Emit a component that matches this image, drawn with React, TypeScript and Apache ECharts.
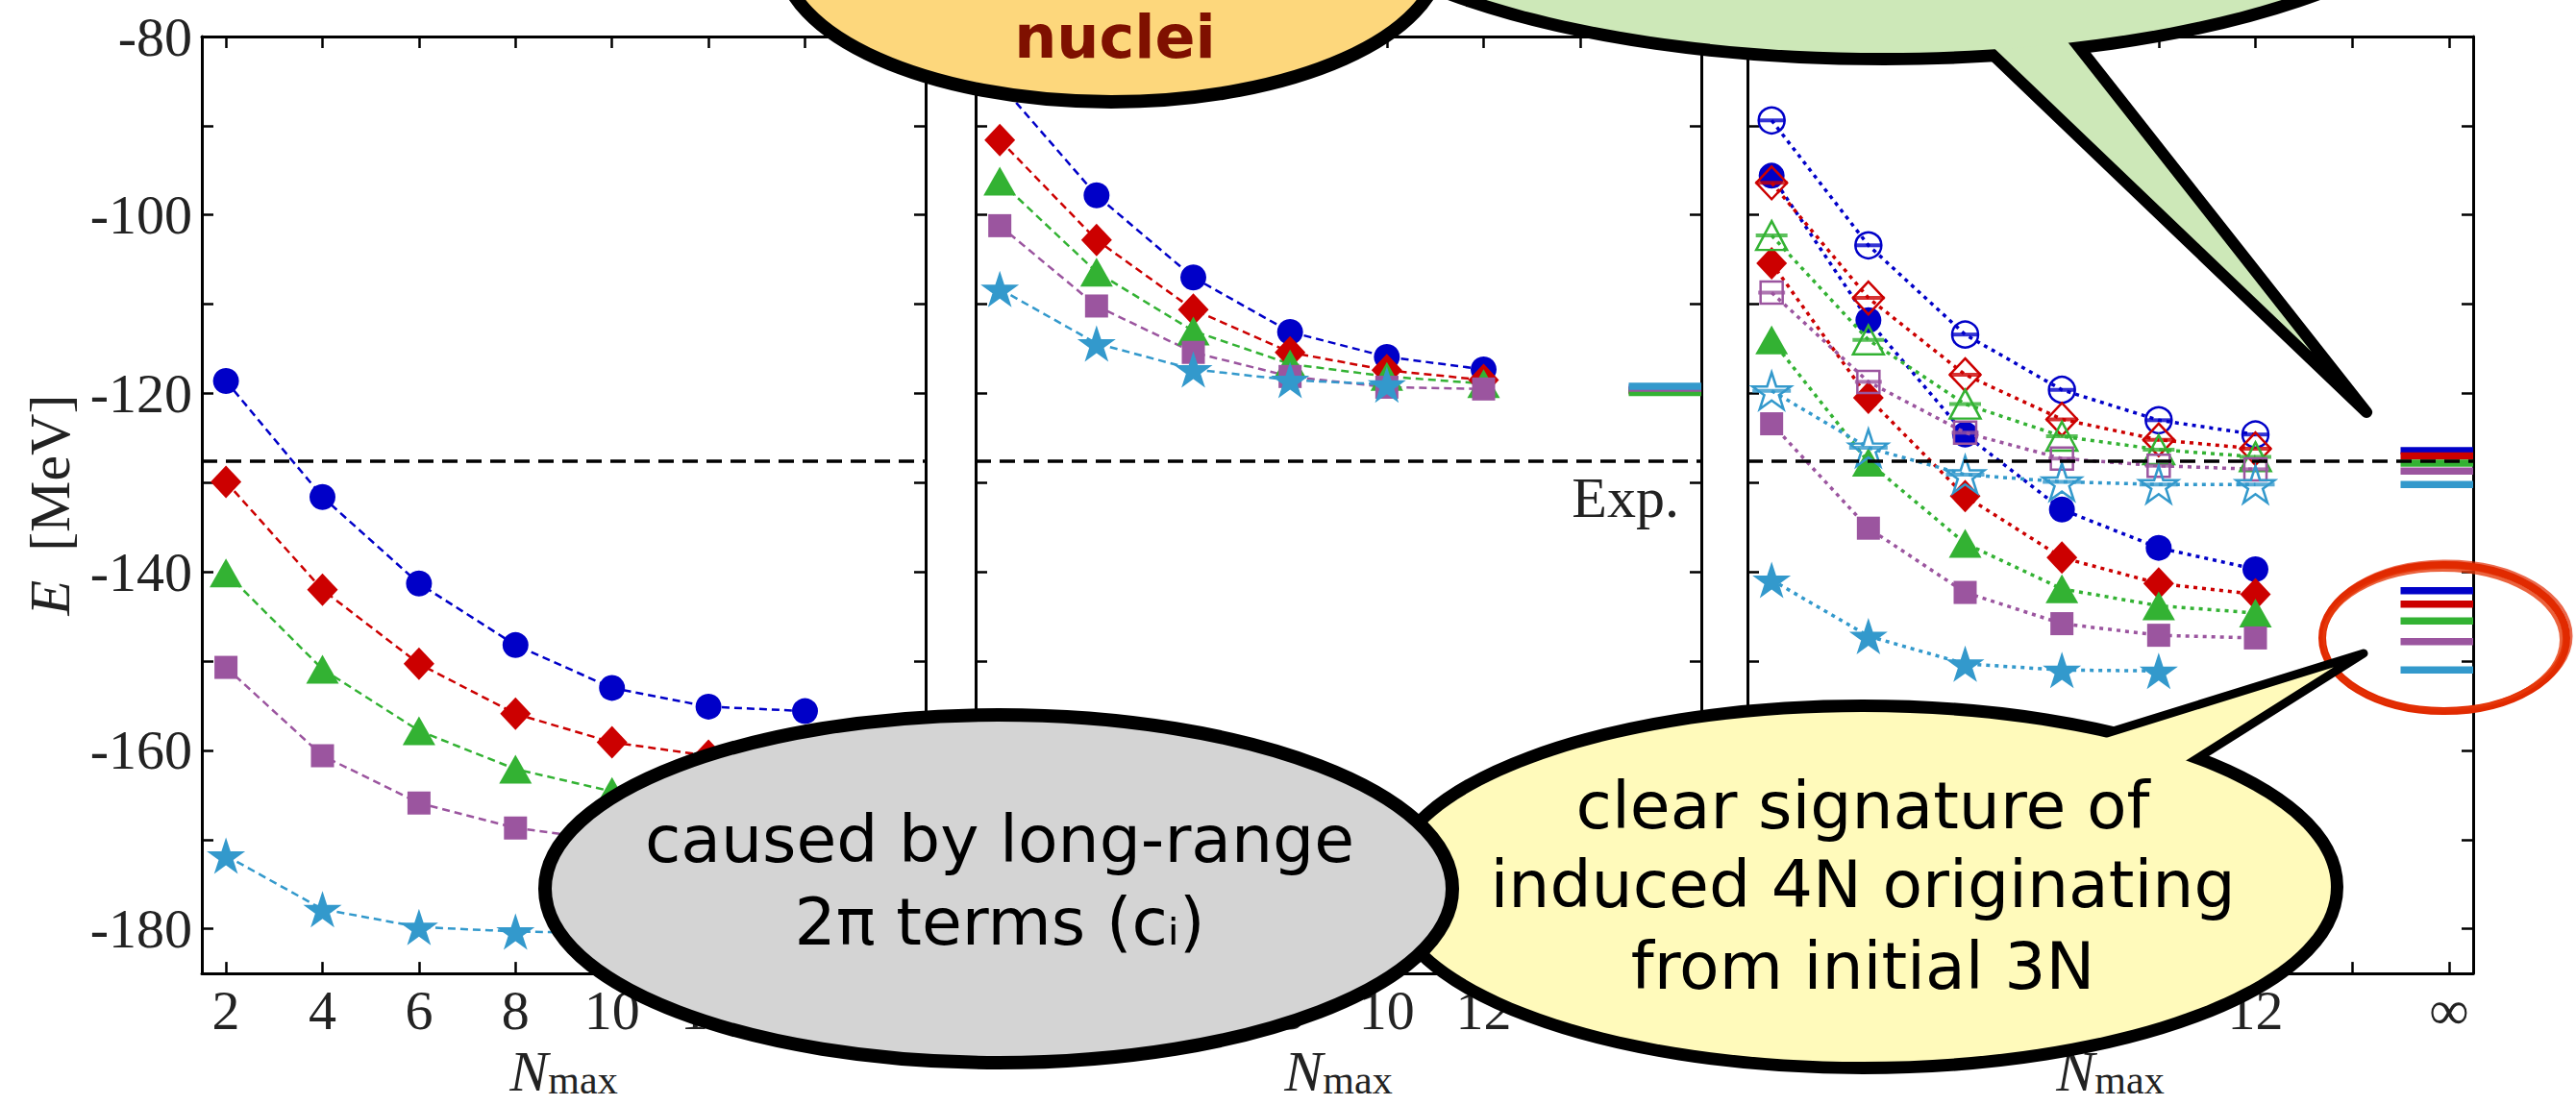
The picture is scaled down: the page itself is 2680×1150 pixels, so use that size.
import React, { useEffect, useRef } from 'react';
import * as echarts from 'echarts';

// ---------- data ----------
const NMAX = [2, 4, 6, 8, 10, 12, 14];
const X_RANGE = [1.5, 16.5];
const Y_RANGE = [-185, -80];
const EXP_ENERGY = -127.62;
const INF_SPAN = [15, 16.5];
const X_TICK_LABELS: Record<string, string> = { '2': '2', '4': '4', '6': '6', '8': '8', '10': '10', '12': '12', '16': '\u221e' };
// tick labels that lie fully under a speech bubble in the reference (per panel)
const COVERED_LABELS = [[] as number[], [16], [2, 4, 6, 8]];

// panel 1 (dashed)
const P1_BLUE = [-118.6, -131.6, -141.3, -148.2, -153.0, -155.1, -155.6];
const P1_RED = [-129.9, -142.0, -150.3, -155.9, -159.1, -160.6, -161.2];
const P1_GREEN = [-140.1, -150.9, -157.8, -162.1, -164.6, -165.7, -166.1];
const P1_PURPLE = [-150.7, -160.6, -165.9, -168.7, -170.1, -170.9, -171.2];
const P1_STAR = [-171.8, -177.8, -179.8, -180.3, -180.5];

// panel 2 (dashed)
const P2_BLUE = [-85.3, -97.8, -107.0, -113.1, -115.9, -117.3];
const P2_RED = [-91.6, -102.8, -110.6, -115.4, -117.4, -118.5];
const P2_GREEN = [-96.2, -106.4, -113.0, -116.7, -118.1, -118.9];
const P2_PURPLE = [-101.2, -110.2, -115.4, -118.1, -119.3, -119.5];
const P2_STAR = [-108.3, -114.4, -117.3, -118.5, -119.0];
const P2_INF = [-119.6, -119.7, -119.9, -119.4, -119.2];

// panel 3 (dotted) filled
const P3_BLUE_F = [-95.6, -111.8, -124.6, -133.0, -137.3, -139.7];
const P3_RED_F = [-105.4, -120.5, -131.5, -138.4, -141.3, -142.5];
const P3_GREEN_F = [-114.0, -127.7, -136.8, -141.9, -143.8, -144.6];
const P3_PURPLE_F = [-123.4, -135.1, -142.3, -145.8, -147.1, -147.4];
const P3_STAR_F = [-140.9, -147.2, -150.3, -151.0, -151.1];
const P3_INF_F = [-142.1, -143.6, -145.5, -147.8, -151.0];
// panel 3 open
const P3_BLUE_O = [-89.4, -103.4, -113.4, -119.6, -123.0, -124.6];
const P3_RED_O = [-96.4, -109.3, -117.9, -122.9, -125.2, -126.2];
const P3_GREEN_O = [-102.3, -114.0, -121.2, -124.8, -126.3, -127.1];
const P3_PURPLE_O = [-108.7, -118.7, -124.4, -127.3, -128.1, -128.5];
const P3_STAR_O = [-119.7, -126.1, -129.1, -129.9, -130.2, -130.2];
const P3_INF_O = [-126.4, -127.0, -127.8, -128.7, -130.2];

const BUBBLE_GREY = ['caused by long-range', '2\u03c0 terms (c\u1d62)'];
const BUBBLE_YELLOW = ['clear signature of', 'induced 4N originating', 'from initial 3N'];
const BUBBLE_ORANGE = 'nuclei';

// ---------- styles ----------
const COLORS = ['#0000c8', '#cc0000', '#33b233', '#9b559f', '#3399cc'];
const STAR = 'path://M0,-1L0.2245,-0.309L0.9511,-0.309L0.3633,0.118L0.5878,0.809L0,0.382L-0.5878,0.809L-0.3633,0.118L-0.9511,-0.309L-0.2245,-0.309Z';
const SYMBOLS = ['circle', 'diamond', 'triangle', 'rect', STAR];
const SIZES = [[27, 27], [32, 34], [34, 30], [24, 24], [40, 38]];
const OPEN_SIZES = [[27, 27], [32, 34], [32, 30], [23, 23], [40, 38]];
const BAR_W = [28, 33, 33, 28, 40];
const SERIF = 'Liberation Serif';
const SANS = 'DejaVu Sans';
const GRIDS = [
  { left: 210, top: 38, width: 753, height: 981 },
  { left: 1015, top: 38, width: 755, height: 981 },
  { left: 1818, top: 38, width: 755, height: 981 },
];

function curve(g: number, vals: number[], k: number, dotted: boolean, hollow: boolean, extra: any = {}) {
  const color = COLORS[k];
  return {
    type: 'line',
    xAxisIndex: 2 * g,
    yAxisIndex: 2 * g,
    data: vals.map((v, i) => [NMAX[i], v]),
    symbol: SYMBOLS[k],
    symbolSize: hollow ? OPEN_SIZES[k] : SIZES[k],
    showSymbol: true,
    lineStyle: dotted ? { color, width: 3.5, type: [4, 5], cap: 'butt' } : { color, width: 2.5, type: [8, 5] },
    itemStyle: hollow ? { color: 'rgba(255,255,255,0)', borderColor: color, borderWidth: 2.5 } : { color },
    z: hollow ? 4 : 3,
    silent: true,
    animation: false,
    ...extra,
  };
}

function bars(g: number, vals: number[], k: number) {
  return {
    type: 'scatter',
    xAxisIndex: 2 * g,
    yAxisIndex: 2 * g,
    data: vals.map((v, i) => [NMAX[i], v]),
    symbol: 'rect',
    symbolSize: [BAR_W[k], 4],
    itemStyle: { color: COLORS[k] },
    z: 4,
    silent: true,
    animation: false,
  };
}

function infBar(g: number, v: number, k: number) {
  return {
    type: 'line',
    xAxisIndex: 2 * g,
    yAxisIndex: 2 * g,
    data: INF_SPAN.map((x) => [x, v]),
    symbol: 'none',
    lineStyle: { color: COLORS[k], width: 7.5, cap: 'butt' },
    z: 3,
    silent: true,
    animation: false,
  };
}

const expLine = {
  markLine: {
    silent: true,
    symbol: ['none', 'none'],
    label: { show: false },
    lineStyle: { color: '#000', width: 3.5, type: [16, 9] },
    data: [{ yAxis: EXP_ENERGY }],
    animation: false,
  },
};

function buildOption() {
  const xAxis: any[] = [];
  const yAxis: any[] = [];
  GRIDS.forEach((_, g) => {
    const common = {
      type: 'value',
      gridIndex: g,
      min: X_RANGE[0],
      max: X_RANGE[1],
      splitNumber: 7,
      splitLine: { show: false },
      axisLine: { show: true, onZero: false, lineStyle: { color: '#000', width: 3 } },
      axisTick: { show: true, inside: true, length: 12, lineStyle: { color: '#000', width: 2.5 } },
    };
    xAxis.push({
      ...common,
      position: 'bottom',
      axisLabel: {
        show: true,
        margin: 9,
        fontSize: 58,
        fontFamily: SERIF,
        color: '#222',
        formatter: (v: number) => (COVERED_LABELS[g].indexOf(v) >= 0 ? '' : X_TICK_LABELS[String(v)] || ''),
      },
      name: '{n|N}{m|max}',
      nameLocation: 'middle',
      nameGap: 66,
      nameTextStyle: {
        rich: {
          n: { fontSize: 60, fontStyle: 'italic', fontFamily: SERIF, color: '#222' },
          m: { fontSize: 42, fontFamily: SERIF, color: '#222', verticalAlign: 'bottom', lineHeight: 30 },
        },
      },
    });
    xAxis.push({ ...common, position: 'top', axisLabel: { show: false } });
    const ycommon = {
      type: 'value',
      gridIndex: g,
      min: Y_RANGE[0],
      max: Y_RANGE[1],
      splitNumber: 10,
      splitLine: { show: false },
      axisLine: { show: true, onZero: false, lineStyle: { color: '#000', width: 3 } },
      axisTick: { show: true, inside: true, length: 12, lineStyle: { color: '#000', width: 2.5 } },
    };
    yAxis.push({
      ...ycommon,
      position: 'left',
      axisLabel: {
        show: g === 0,
        margin: 10,
        fontSize: 58,
        fontFamily: SERIF,
        color: '#222',
        formatter: (v: number) => (v % 20 === 0 ? String(v) : ''),
      },
      name: g === 0 ? '{e|E}{u|  [MeV]}' : '',
      nameLocation: 'middle',
      nameGap: 128,
      nameTextStyle: {
        rich: {
          e: { fontSize: 60, fontStyle: 'italic', fontFamily: SERIF, color: '#222' },
          u: { fontSize: 60, fontFamily: SERIF, color: '#222' },
        },
      },
    });
    yAxis.push({ ...ycommon, position: 'right', axisLabel: { show: false } });
  });

  const series: any[] = [];
  // panel 1
  [P1_BLUE, P1_RED, P1_GREEN, P1_PURPLE, P1_STAR].forEach((vals, k) =>
    series.push(curve(0, vals, k, false, false, k === 0 ? expLine : {}))
  );
  // panel 2
  [P2_BLUE, P2_RED, P2_GREEN, P2_PURPLE, P2_STAR].forEach((vals, k) =>
    series.push(curve(1, vals, k, false, false, k === 0 ? expLine : {}))
  );
  P2_INF.forEach((v, k) => series.push(infBar(1, v, k)));
  // panel 3
  [P3_BLUE_F, P3_RED_F, P3_GREEN_F, P3_PURPLE_F, P3_STAR_F].forEach((vals, k) =>
    series.push(curve(2, vals, k, true, false, k === 0 ? expLine : {}))
  );
  [P3_BLUE_O, P3_RED_O, P3_GREEN_O, P3_PURPLE_O, P3_STAR_O].forEach((vals, k) => {
    series.push(curve(2, vals, k, true, true));
    series.push(bars(2, vals, k));
  });
  P3_INF_O.forEach((v, k) => series.push(infBar(2, v, k)));
  P3_INF_F.forEach((v, k) => series.push(infBar(2, v, k)));

  const GREEN_FILL = '#cde8b8';
  const ORANGE_FILL = '#fdd77c';
  const YELLOW_FILL = '#fffabb';
  const GREY_FILL = '#d4d4d4';
  const RED_PEN = '#e12a00';
  const txt = (text: string, x: number, y: number, extra: any = {}) => ({
    type: 'text',
    x,
    y,
    silent: true,
    style: { text, fill: '#000', fontSize: 68, fontFamily: SANS, align: 'center', verticalAlign: 'middle', ...extra },
  });

  const elements: any[] = [
    { ...txt('Exp.', 1747, 518, { fill: '#222', fontSize: 60, fontFamily: SERIF, align: 'right' }), z: 50 },
    // red hand-drawn circle
    { type: 'ellipse', z: 60, silent: true, shape: { cx: 2543, cy: 664, rx: 127, ry: 76 }, style: { fill: 'none', stroke: RED_PEN, lineWidth: 8 } },
    { type: 'ellipse', z: 60, silent: true, shape: { cx: 2541, cy: 666, rx: 124, ry: 73 }, style: { fill: 'none', stroke: '#e63b0c', lineWidth: 4, opacity: 0.8 } },
    { type: 'ellipse', z: 60, silent: true, shape: { cx: 2545, cy: 662, rx: 130, ry: 78 }, style: { fill: 'none', stroke: RED_PEN, lineWidth: 3, opacity: 0.7 } },
    // green bubble
    { type: 'ellipse', z: 70, silent: true, shape: { cx: 1960, cy: -150, rx: 607, ry: 205 }, style: { fill: GREEN_FILL, stroke: '#000', lineWidth: 26 } },
    { type: 'polygon', z: 71, silent: true, shape: { points: [[2045, 30], [2462, 429], [2148, 30]] }, style: { fill: GREEN_FILL, stroke: '#000', lineWidth: 12, lineJoin: 'round' } },
    { type: 'ellipse', z: 72, silent: true, shape: { cx: 1960, cy: -150, rx: 607, ry: 205 }, style: { fill: GREEN_FILL, lineWidth: 0 } },
    // orange bubble
    { type: 'ellipse', z: 73, silent: true, shape: { cx: 1156, cy: -47, rx: 343, ry: 153 }, style: { fill: ORANGE_FILL, stroke: '#000', lineWidth: 14 } },
    { ...txt(BUBBLE_ORANGE, 1160, 38, { fill: '#7f1000', fontSize: 62, fontWeight: 'bold' }), z: 74 },
    // yellow bubble
    { type: 'ellipse', z: 80, silent: true, shape: { cx: 1938, cy: 923, rx: 487, ry: 182 }, style: { fill: YELLOW_FILL, stroke: '#000', lineWidth: 26 } },
    { type: 'polygon', z: 81, silent: true, shape: { points: [[2150, 776], [2459, 680], [2250, 812]] }, style: { fill: YELLOW_FILL, stroke: '#000', lineWidth: 9, lineJoin: 'round' } },
    { type: 'ellipse', z: 82, silent: true, shape: { cx: 1938, cy: 923, rx: 487, ry: 182 }, style: { fill: YELLOW_FILL, lineWidth: 0 } },
    { ...txt(BUBBLE_YELLOW[0], 1938, 838), z: 83 },
    { ...txt(BUBBLE_YELLOW[1], 1938, 920.5), z: 83 },
    { ...txt(BUBBLE_YELLOW[2], 1938, 1005), z: 83 },
    // grey bubble
    { type: 'ellipse', z: 90, silent: true, shape: { cx: 1039, cy: 925, rx: 472, ry: 181 }, style: { fill: GREY_FILL, stroke: '#000', lineWidth: 14 } },
    { ...txt(BUBBLE_GREY[0], 1040, 873.5), z: 91 },
    { ...txt(BUBBLE_GREY[1], 1040, 959.5), z: 91 },
  ];

  return {
    animation: false,
    backgroundColor: '#fff',
    grid: GRIDS,
    xAxis,
    yAxis,
    series,
    graphic: { elements },
  };
}

export default function App() {
  const ref = useRef<HTMLDivElement>(null);
  useEffect(() => {
    if (!ref.current) return;
    const chart = echarts.init(ref.current, undefined, { renderer: 'svg' });
    chart.setOption(buildOption() as any);
    return () => chart.dispose();
  }, []);
  return <div ref={ref} style={{ position: 'absolute', left: 0, top: 0, width: 2680, height: 1150 }} />;
}
